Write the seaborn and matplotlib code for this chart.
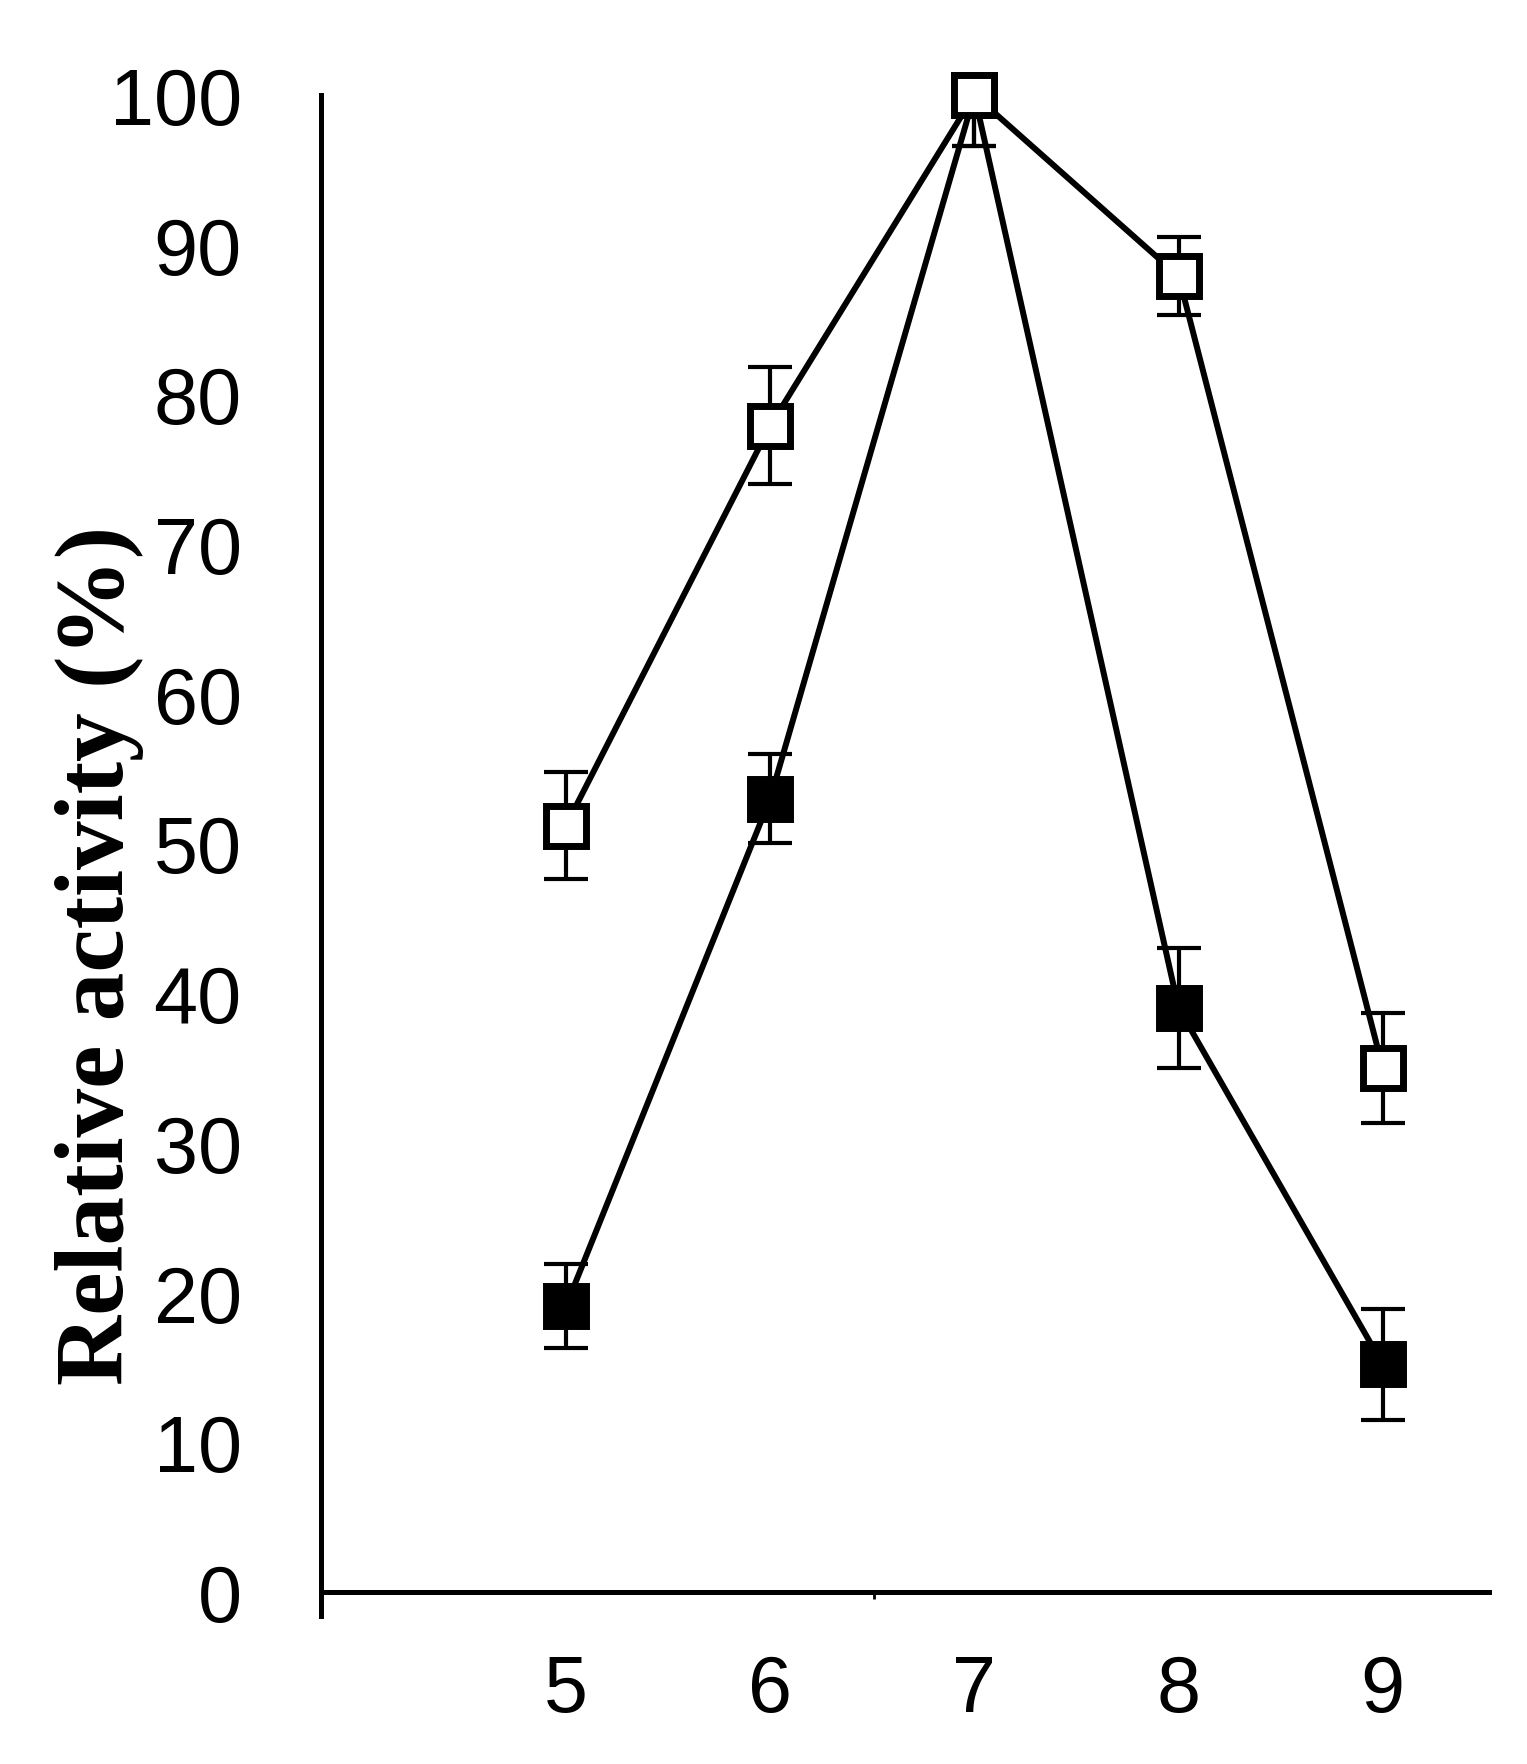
"""
Relative activity vs pH for two enzyme preparations.
"""

import numpy as np
import pandas as pd
import matplotlib
matplotlib.use('Agg')
import matplotlib.pyplot as plt
import seaborn as sns

# data
ph = [5, 6, 7, 8, 9]
open_activity = [51.2, 77.9, 100.0, 87.9, 35.0]
open_err_low = [3.6, 3.9, 3.4, 2.6, 3.7]
open_err_high = [3.6, 3.9, 0.0, 2.6, 3.7]
filled_activity = [19.1, 53.0, 100.0, 39.0, 15.2]
filled_err_low = [2.8, 3.0, 3.4, 4.0, 3.7]
filled_err_high = [2.8, 3.0, 0.0, 4.0, 3.7]
y_ticks = [0, 10, 20, 30, 40, 50, 60, 70, 80, 90, 100]

df = pd.DataFrame({
    'pH': ph * 2,
    'activity': filled_activity + open_activity,
    'err_low': filled_err_low + open_err_low,
    'err_high': filled_err_high + open_err_high,
    'series': ['filled'] * len(ph) + ['open'] * len(ph),
})

sns.set_style('white')
plt.rcParams['font.family'] = ['Liberation Sans', 'DejaVu Sans']
plt.rcParams['text.color'] = 'black'
plt.rcParams['xtick.color'] = 'black'
plt.rcParams['ytick.color'] = 'black'

fig = plt.figure(figsize=(15.27, 17.65), dpi=100)
ax = fig.add_axes([0.2102, 0.0839, 0.7649, 0.8617])

styles = {'filled': 'black', 'open': 'white'}
for i, (name, face) in enumerate(styles.items()):
    sub = df[df['series'] == name]
    ax.errorbar(sub['pH'], sub['activity'],
                yerr=[sub['err_low'], sub['err_high']], fmt='none',
                ecolor='black', elinewidth=3, capsize=15.5, capthick=3,
                zorder=2 + 2 * i, clip_on=False)
    sns.lineplot(data=sub, x='pH', y='activity', ax=ax, color='black',
                 linewidth=4.3, marker='s', markersize=29,
                 markerfacecolor=face, markeredgecolor='black',
                 markeredgewidth=5, zorder=3 + 2 * i, clip_on=False)

ax.set_xlim(3.8, 9.52)
ax.set_ylim(-1.6, 100)
ax.spines['bottom'].set_position(('data', 0))
for side in ['top', 'right']:
    ax.spines[side].set_visible(False)
for side in ['left', 'bottom']:
    ax.spines[side].set_linewidth(3.6)
    ax.spines[side].set_color('black')

ax.set_yticks(y_ticks)
ax.set_yticklabels([str(t) for t in y_ticks])
ax.set_xticks(ph)
ax.set_xticklabels([str(p) for p in ph])
ax.set_xticks([6.51], minor=True)
ax.tick_params(axis='y', length=0, pad=57, labelsize=57, labelcolor='black')
ax.tick_params(axis='x', which='major', length=0, pad=44, labelsize=57,
               labelcolor='black')
ax.tick_params(axis='x', which='minor', bottom=True, length=5, width=2,
               direction='out', color='black')
ax.set_xlabel('')
ax.set_ylabel('')

fig.text(0.065, 0.4584, 'Relative activity (%)', rotation=90,
         ha='center', va='center', fontsize=70, fontweight='bold',
         color='black', family=['Liberation Serif', 'DejaVu Serif'])

fig.savefig('out.png', dpi=100, facecolor='white')
